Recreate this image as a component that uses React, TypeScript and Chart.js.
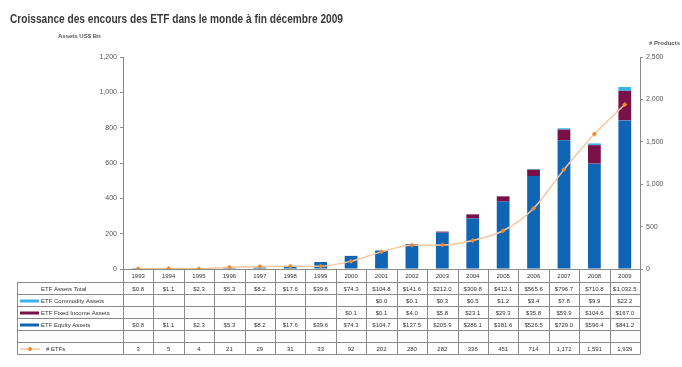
import React, { useEffect, useRef } from "react";
import { Chart, registerables } from "chart.js";

Chart.register(...registerables);

const TITLE = "Croissance des encours des ETF dans le monde à fin décembre 2009";
const years = ["1993","1994","1995","1996","1997","1998","1999","2000","2001","2002","2003","2004","2005","2006","2007","2008","2009"];
const totalAssets = [0.8,1.1,2.3,5.3,8.2,17.6,39.6,74.3,104.8,141.6,212.0,309.8,412.1,565.6,796.7,710.8,1032.5];
const commodityAssets = [null,null,null,null,null,null,null,null,0.0,0.1,0.3,0.5,1.2,3.4,7.8,9.9,22.2];
const fixedIncomeAssets = [null,null,null,null,null,null,null,0.1,0.1,4.0,5.8,23.1,29.3,35.8,59.9,104.6,167.0];
const equityAssets = [0.8,1.1,2.3,5.3,8.2,17.6,39.6,74.3,104.7,137.5,205.9,286.1,381.6,526.5,729.0,596.4,841.2];
const etfCount = [3,5,4,21,29,31,33,92,202,280,282,336,451,714,1172,1591,1939];
const leftTicks = [0,200,400,600,800,1000,1200];
const rightTicks = [0,500,1000,1500,2000,2500];
const rowLabels = ["ETF Assets Total","ETF Commodity Assets","ETF Fixed Income Assets","ETF Equity Assets","","# ETFs"];

const C_EQ = "#0f64b4";
const C_FI = "#7a1048";
const C_CO = "#3ab4e8";
const C_LINE = "#f6c7a0";
const C_MARK = "#f08a2a";

const fmtMoney = (v: number | null) =>
  v === null || v === undefined ? "" : "$" + v.toLocaleString("en-US", { minimumFractionDigits: 1, maximumFractionDigits: 1 });

const tablePlugin = {
  id: "tablePlugin",
  afterDraw(chart: any) {
    const ctx = chart.ctx;
    const xs = chart.scales.x;
    const ca = chart.chartArea;
    const n = years.length;
    const colW = (ca.right - ca.left) / n;
    const tLeft = 17;
    const axisY = Math.round(ca.bottom) + 0.5;
    const rowTops = [282.5, 294.5, 306.5, 318.5, 330.5, 342.5, 354.5];
    ctx.save();
    // title
    ctx.fillStyle = "#3a3a3a";
    ctx.font = "bold 13px 'Liberation Sans', Arial, sans-serif";
    ctx.textBaseline = "middle";
    ctx.textAlign = "left";
    ctx.fillText(TITLE, 10, 19, 333);
    ctx.font = "bold 6px 'Liberation Sans', Arial, sans-serif";
    ctx.fillStyle = "#555";
    ctx.fillText("Assets US$ Bn", 58, 36);
    ctx.textAlign = "right";
    ctx.fillText("# Products", 680, 43);

    ctx.strokeStyle = "#8a8a8a";
    ctx.lineWidth = 1;
    // axis baseline
    ctx.beginPath();
    ctx.moveTo(ca.left, axisY);
    ctx.lineTo(ca.right, axisY);
    ctx.stroke();
    // horizontal lines
    for (const y of rowTops) {
      ctx.beginPath();
      ctx.moveTo(tLeft, y);
      ctx.lineTo(ca.right, y);
      ctx.stroke();
    }
    // vertical lines
    ctx.beginPath();
    ctx.moveTo(tLeft + 0.5, rowTops[0]);
    ctx.lineTo(tLeft + 0.5, rowTops[6]);
    ctx.stroke();
    for (let i = 0; i <= n; i++) {
      const x = Math.round(ca.left + i * colW) + 0.5;
      ctx.beginPath();
      ctx.moveTo(x, axisY);
      ctx.lineTo(x, rowTops[6]);
      ctx.stroke();
    }
    // text
    ctx.fillStyle = "#333";
    ctx.font = "6px 'Liberation Sans', Arial, sans-serif";
    ctx.textAlign = "center";
    ctx.textBaseline = "middle";
    const rows = [
      totalAssets.map(fmtMoney),
      commodityAssets.map(fmtMoney),
      fixedIncomeAssets.map(fmtMoney),
      equityAssets.map(fmtMoney),
      years.map(() => ""),
      etfCount.map((v) => v.toLocaleString("en-US")),
    ];
    for (let i = 0; i < n; i++) {
      const cx = xs.getPixelForValue(i);
      ctx.fillText(years[i], cx, (axisY + rowTops[0]) / 2 + 0.5, colW - 2);
      for (let r = 0; r < rows.length; r++) {
        const cy = (rowTops[r] + rowTops[r + 1]) / 2 + 0.5;
        ctx.fillText(rows[r][i], cx, cy, colW - 2);
      }
    }
    // labels
    ctx.textAlign = "left";
    const sw = [null, C_CO, C_FI, C_EQ, null, "line"];
    for (let r = 0; r < rowLabels.length; r++) {
      const cy = (rowTops[r] + rowTops[r + 1]) / 2 + 0.5;
      ctx.fillStyle = "#333";
      ctx.fillText(rowLabels[r], r === 5 ? 46 : 41, cy);
      const s = sw[r];
      if (s === "line") {
        ctx.strokeStyle = C_LINE;
        ctx.lineWidth = 1.5;
        ctx.beginPath();
        ctx.moveTo(20, cy);
        ctx.lineTo(40, cy);
        ctx.stroke();
        ctx.fillStyle = C_MARK;
        ctx.beginPath();
        ctx.moveTo(30, cy - 2.5);
        ctx.lineTo(32.5, cy);
        ctx.lineTo(30, cy + 2.5);
        ctx.lineTo(27.5, cy);
        ctx.closePath();
        ctx.fill();
      } else if (s) {
        ctx.fillStyle = s;
        ctx.fillRect(20, cy - 1.5, 19, 3);
      }
    }
    ctx.restore();
  },
};

export default function App() {
  const ref = useRef<HTMLCanvasElement | null>(null);
  useEffect(() => {
    if (!ref.current) return;
    const chart = new Chart(ref.current, {
      type: "bar",
      data: {
        labels: years,
        datasets: [
          { type: "line", label: "# ETFs", data: etfCount, yAxisID: "y1", order: 0,
            borderColor: C_LINE, borderWidth: 1.5, tension: 0.4, cubicInterpolationMode: "monotone",
            pointStyle: "rectRot", pointRadius: 2.5, pointBackgroundColor: C_MARK, pointBorderColor: C_MARK, pointBorderWidth: 0 } as any,
          { label: "ETF Equity Assets", data: equityAssets, backgroundColor: C_EQ, stack: "a", order: 1, barPercentage: 0.42, categoryPercentage: 1 },
          { label: "ETF Fixed Income Assets", data: fixedIncomeAssets, backgroundColor: C_FI, stack: "a", order: 1, barPercentage: 0.42, categoryPercentage: 1 },
          { label: "ETF Commodity Assets", data: commodityAssets, backgroundColor: C_CO, stack: "a", order: 1, barPercentage: 0.42, categoryPercentage: 1 },
        ],
      },
      options: {
        animation: false,
        responsive: false,
        maintainAspectRatio: false,
        layout: { padding: { top: 57, bottom: 98, left: 0, right: 0 } },
        plugins: { legend: { display: false }, tooltip: { enabled: false }, title: { display: false } },
        scales: {
          x: { display: false, stacked: true },
          y: {
            stacked: true, min: 0, max: 1200, position: "left",
            afterFit: (s: any) => { s.width = 123; },
            afterBuildTicks: (s: any) => { s.ticks = leftTicks.map((v) => ({ value: v })); },
            ticks: { font: { size: 7, family: "'Liberation Sans', Arial, sans-serif" }, color: "#555", padding: 3,
              callback: (v: any) => Number(v).toLocaleString("en-US") },
            grid: { drawOnChartArea: false, drawTicks: true, tickLength: 3, color: "#8a8a8a" },
            border: { color: "#8a8a8a", width: 1 },
          },
          y1: {
            min: 0, max: 2500, position: "right",
            afterFit: (s: any) => { s.width = 42; },
            afterBuildTicks: (s: any) => { s.ticks = rightTicks.map((v) => ({ value: v })); },
            ticks: { font: { size: 7, family: "'Liberation Sans', Arial, sans-serif" }, color: "#555", padding: 3,
              callback: (v: any) => Number(v).toLocaleString("en-US") },
            grid: { drawOnChartArea: false, drawTicks: true, tickLength: 3, color: "#8a8a8a" },
            border: { color: "#8a8a8a", width: 1 },
          },
        },
      } as any,
      plugins: [tablePlugin],
    });
    return () => chart.destroy();
  }, []);
  return (
    <div style={{ position: "fixed", left: 0, top: 0, width: 682, height: 367, background: "#fff" }}>
      <canvas ref={ref} width={682} height={367} style={{ width: 682, height: 367, display: "block" }} />
    </div>
  );
}
